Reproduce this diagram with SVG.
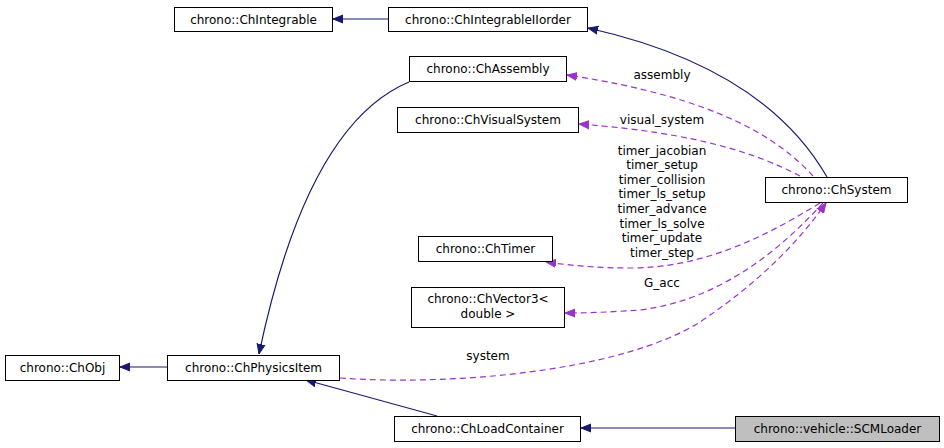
<svg xmlns="http://www.w3.org/2000/svg" width="944" height="448" viewBox="0 0 944 448">
<defs>
<style>
.n rect{fill:#fff;stroke:#000;stroke-width:1}
text{font-family:"DejaVu Sans",sans-serif;font-size:12px;fill:#000}
.n text{text-anchor:middle}
.l{text-anchor:middle}
.inh{fill:none;stroke:#191970;stroke-width:1.2}
.use{fill:none;stroke:#9a32cd;stroke-width:1.2;stroke-dasharray:6,4}
</style>
<marker id="an" viewBox="0 0 10 10" refX="10" refY="5" markerWidth="10" markerHeight="10" markerUnits="userSpaceOnUse" orient="auto"><path d="M0,1 L10,5 L0,9 Z" fill="#191970" stroke="#191970"/></marker>
<marker id="ap" viewBox="0 0 10 10" refX="10" refY="5" markerWidth="10" markerHeight="10" markerUnits="userSpaceOnUse" orient="auto"><path d="M0,1 L10,5 L0,9 Z" fill="#9a32cd" stroke="#9a32cd"/></marker>
</defs>
<rect width="944" height="448" fill="#fff"/>
<g id="edges">
<path class="inh" d="M388,19 L333,19" marker-end="url(#an)"/>
<path class="inh" d="M827,177 C800,130 740,62 588,28" marker-end="url(#an)"/>
<path class="inh" d="M409,82 C330,115 285,230 259,354" marker-end="url(#an)"/>
<path class="inh" d="M437,416 L306,380" marker-end="url(#an)"/>
<path class="inh" d="M735,428 L581,428" marker-end="url(#an)"/>
<path class="inh" d="M167,367 L120,367" marker-end="url(#an)"/>
<path class="use" d="M813,176 C780,140 720,98 567,75" marker-end="url(#ap)"/>
<path class="use" d="M800,176 C760,155 700,133 579,124" marker-end="url(#ap)"/>
<path class="use" d="M820,203 C760,240 700,268 630,268 C600,268 575,266 546,262" marker-end="url(#ap)"/>
<path class="use" d="M823,203 C780,250 720,300 640,310 C610,312 590,313 565,313" marker-end="url(#ap)"/>
<path class="use" d="M340,378 C450,386 620,372 700,322 C760,282 800,240 826,203" marker-end="url(#ap)"/>
</g>
<g class="l">
<text class="l" x="662" y="79">assembly</text>
<text class="l" x="662" y="124">visual_system</text>
<text class="l" x="662" y="155">timer_jacobian</text>
<text class="l" x="662" y="169">timer_setup</text>
<text class="l" x="662" y="184">timer_collision</text>
<text class="l" x="662" y="198">timer_ls_setup</text>
<text class="l" x="662" y="213">timer_advance</text>
<text class="l" x="662" y="228">timer_ls_solve</text>
<text class="l" x="662" y="242">timer_update</text>
<text class="l" x="662" y="257">timer_step</text>
<text class="l" x="662" y="287">G_acc</text>
<text class="l" x="488" y="360">system</text>
</g>
<g id="ChIntegrable" class="n"><rect x="174.5" y="7.5" width="158" height="24"/><text x="253.5" y="24">chrono::ChIntegrable</text></g>
<g id="ChIntegrableIIorder" class="n"><rect x="388.5" y="7.5" width="199" height="24"/><text x="488" y="24">chrono::ChIntegrableIIorder</text></g>
<g id="ChAssembly" class="n"><rect x="409.5" y="56.5" width="157" height="25"/><text x="488" y="73">chrono::ChAssembly</text></g>
<g id="ChVisualSystem" class="n"><rect x="397.5" y="107.5" width="181" height="25"/><text x="488" y="124">chrono::ChVisualSystem</text></g>
<g id="ChSystem" class="n"><rect x="765.5" y="177.5" width="142" height="25"/><text x="836.5" y="194">chrono::ChSystem</text></g>
<g id="ChTimer" class="n"><rect x="418.5" y="236.5" width="134" height="25"/><text x="485.5" y="253">chrono::ChTimer</text></g>
<g id="ChVector3" class="n"><rect x="411.5" y="287.5" width="153" height="40"/><text x="488" y="303">chrono::ChVector3&lt;</text><text x="488" y="318">double &gt;</text></g>
<g id="ChObj" class="n"><rect x="5.5" y="355.5" width="114" height="25"/><text x="62.5" y="372">chrono::ChObj</text></g>
<g id="ChPhysicsItem" class="n"><rect x="167.5" y="355.5" width="172" height="25"/><text x="253.5" y="372">chrono::ChPhysicsItem</text></g>
<g id="ChLoadContainer" class="n"><rect x="394.5" y="416.5" width="186" height="25"/><text x="487.5" y="433">chrono::ChLoadContainer</text></g>
<g id="SCMLoader" class="n"><rect x="735.5" y="416.5" width="204" height="25" style="fill:#bfbfbf"/><text x="837.5" y="433">chrono::vehicle::SCMLoader</text></g>
</svg>
